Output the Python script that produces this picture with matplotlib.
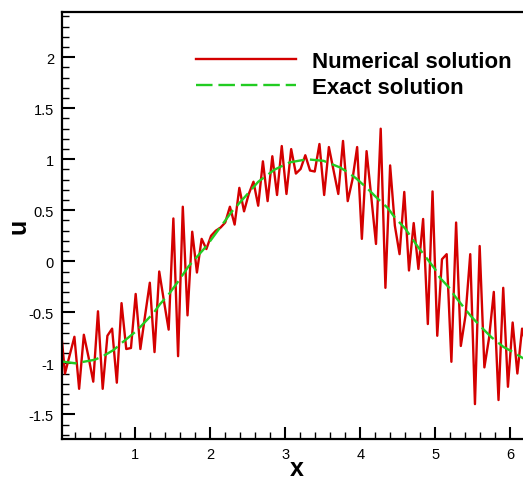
import numpy as np
import matplotlib
matplotlib.use("Agg")
from matplotlib import pyplot as plt
from matplotlib.ticker import MultipleLocator

plt.rcParams['font.family'] = ['Liberation Sans', 'DejaVu Sans']

# numerical solution, 100 grid points on [0, 2pi)
x_num = np.linspace(0, 2 * np.pi, 100, endpoint=False)
u_num = [
    -0.60, -1.10, -0.92, -0.74, -1.25, -0.72, -0.94, -1.18, -0.49, -1.25,
    -0.73, -0.66, -1.19, -0.41, -0.86, -0.85, -0.32, -0.86, -0.53, -0.21,
    -0.89, -0.10, -0.39, -0.67, 0.42, -0.93, 0.535, -0.53, 0.29, -0.11,
    0.22, 0.12, 0.25, 0.30, 0.33, 0.38, 0.535, 0.36, 0.72, 0.49,
    0.66, 0.78, 0.545, 0.98, 0.59, 1.03, 0.65, 1.13, 0.66, 1.10,
    0.86, 0.905, 1.04, 0.89, 0.88, 1.15, 0.65, 1.12, 0.89, 0.66,
    1.18, 0.59, 0.80, 1.12, 0.22, 1.08, 0.63, 0.17, 1.30, -0.26,
    0.94, 0.35, 0.07, 0.68, -0.09, 0.375, -0.075, 0.415, -0.615, 0.685,
    -0.73, 0.02, 0.07, -0.985, 0.38, -0.83, -0.53, 0.07, -1.40, 0.15,
    -1.04, -0.75, -0.30, -1.36, -0.26, -1.23, -0.60, -1.10, -0.66, -0.85,
]

# exact solution
x_exact = [0.0, 0.2, 0.46, 0.57, 0.71, 0.82, 1.02, 1.11, 1.24, 1.33, 1.44,
           1.56, 1.71, 1.95, 2.13, 2.29, 2.46, 2.64, 2.86, 3.06, 3.29, 3.51,
           3.73, 3.84, 3.95, 4.10, 4.21, 4.37, 4.46, 4.60, 4.77, 4.86, 5.00,
           5.06, 5.20, 5.26, 5.40, 5.49, 5.64, 5.75, 5.91, 6.00, 6.17, 6.28]
u_exact = [-0.98, -1.0, -0.965, -0.93, -0.87, -0.80, -0.68, -0.61, -0.51,
           -0.42, -0.33, -0.21, -0.05, 0.15, 0.33, 0.49, 0.63, 0.78, 0.90,
           0.97, 1.0, 0.985, 0.92, 0.87, 0.81, 0.71, 0.63, 0.52, 0.43, 0.32,
           0.14, 0.055, -0.08, -0.16, -0.27, -0.34, -0.47, -0.55, -0.665,
           -0.745, -0.84, -0.875, -0.95, -0.97]

W, H = 523, 481
fig = plt.figure(figsize=(W / 100, H / 100), dpi=100)
# axes runs past the right edge of the picture, like the original crop
ax = fig.add_axes([62.3 / W, 1 - 440 / H, 469.2 / W, 426.7 / H])

ax.plot(x_num, u_num, color='#d40000', lw=1.7, label='Numerical solution')
ax.plot(x_exact, u_exact, color='#22cc22', lw=1.7, dashes=(7, 2.5),
        label='Exact solution')

ax.set_xlim(0.027, 2 * np.pi)
ax.set_ylim(-1.742, 2.441)
ax.xaxis.set_minor_locator(MultipleLocator(0.2))
ax.yaxis.set_minor_locator(MultipleLocator(0.1))
ax.set_xticks([1, 2, 3, 4, 5, 6])
ax.set_yticks([-1.5, -1, -0.5, 0, 0.5, 1, 1.5, 2])
ax.set_yticklabels(['-1.5', '-1', '-0.5', '0', '0.5', '1', '1.5', '2'])
ax.tick_params(which='both', direction='in', top=False, right=False,
               labelsize=10.5, width=1.5, pad=6)
ax.tick_params(which='major', length=9)
ax.tick_params(which='minor', length=5, width=1)
for s in ax.spines.values():
    s.set_linewidth(1.6)

ax.set_xlabel('x', fontsize=18, fontweight='bold', labelpad=-4)
ax.set_ylabel('u', fontsize=18, fontweight='bold', labelpad=-1)

ax.legend(loc='upper left', bbox_to_anchor=(196 / W, 1 - 52 / H),
          bbox_transform=fig.transFigure, frameon=False,
          prop={'size': 16, 'weight': 'bold'}, handlelength=4.5,
          handletextpad=0.7, labelspacing=0.22, borderpad=0, borderaxespad=0)

fig.savefig('out.png', dpi=100)
